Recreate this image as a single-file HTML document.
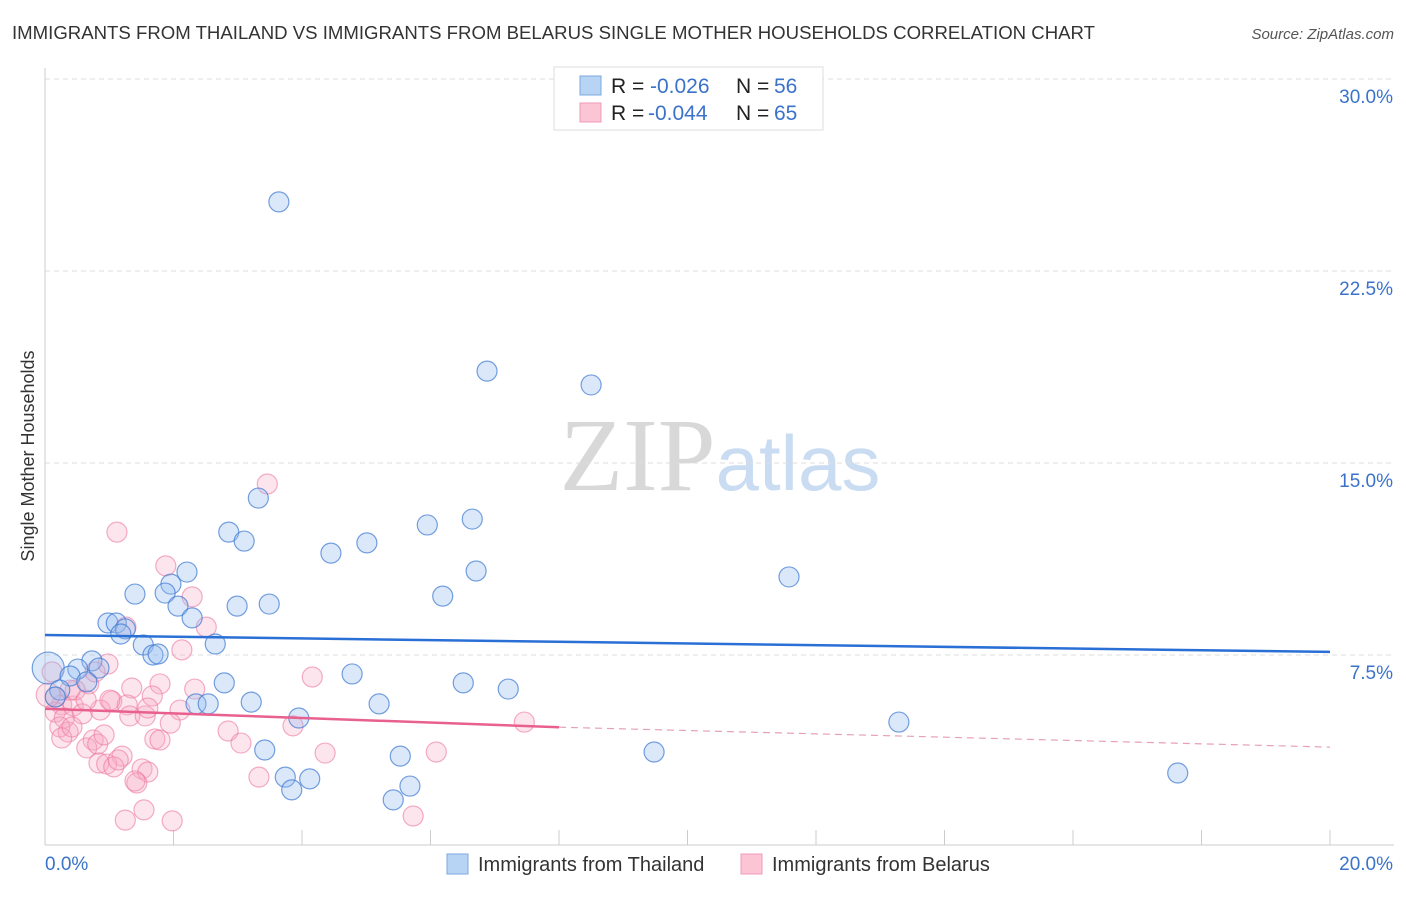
<!DOCTYPE html>
<html><head><meta charset="utf-8"><style>
body{margin:0;background:#fff;font-family:"Liberation Sans",sans-serif;}
svg text{font-family:"Liberation Sans",sans-serif;}
</style></head><body>
<svg id="chart" width="1406" height="892" viewBox="0 0 1406 892" xmlns="http://www.w3.org/2000/svg">
<text x="12" y="39" font-size="18" fill="#333" textLength="1083" lengthAdjust="spacingAndGlyphs">IMMIGRANTS FROM THAILAND VS IMMIGRANTS FROM BELARUS SINGLE MOTHER HOUSEHOLDS CORRELATION CHART</text>
<text x="1394" y="39" font-size="15" fill="#555" text-anchor="end" font-style="italic">Source: ZipAtlas.com</text>
<text x="720" y="490" font-size="104" text-anchor="middle"><tspan fill="#d8d8d8" font-family="Liberation Serif">ZIP</tspan><tspan fill="#c9dcf2" font-size="78">atlas</tspan></text>
<text transform="translate(34,456) rotate(-90)" font-size="18" fill="#333" text-anchor="middle">Single Mother Households</text>
<g id="grid"></g>
<g id="axes"></g>
<g id="marks"></g>
<g>
<rect x="554" y="67" width="269" height="63" fill="#fff" stroke="#ddd"/>
<rect x="580" y="76" width="21" height="19" fill="#b8d4f5" stroke="#7aa8e0"/>
<rect x="580" y="103" width="21" height="19" fill="#fcc5d5" stroke="#f09ab5"/>
<text x="611" y="93" font-size="21" fill="#222">R =<tspan x="650" fill="#3a73c9">-0.026</tspan><tspan x="736">N =</tspan><tspan x="774" fill="#3a73c9">56</tspan></text>
<text x="611" y="120" font-size="21" fill="#222">R =<tspan x="648" fill="#3a73c9">-0.044</tspan><tspan x="736">N =</tspan><tspan x="774" fill="#3a73c9">65</tspan></text>
</g>
<g>
<rect x="447" y="854" width="21" height="20" fill="#b8d4f5" stroke="#7aa8e0"/>
<text x="478" y="871" font-size="20" fill="#333">Immigrants from Thailand</text>
<rect x="741" y="854" width="21" height="20" fill="#fcc5d5" stroke="#f09ab5"/>
<text x="772" y="871" font-size="20" fill="#333">Immigrants from Belarus</text>
</g>
</svg>
<script>
const yTicks=[7.5,15,22.5,30];
const yTickLabels=["7.5%","15.0%","22.5%","30.0%"];
const xTicks=[0,2,4,6,8,10,12,14,16,18,20];
const blueX=[3.64,6.88,8.50,3.32,2.86,3.10,5.95,6.65,4.45,5.01,6.71,11.58,2.21,1.96,1.40,1.87,6.19,2.07,2.99,3.49,2.29,0.98,1.11,1.25,1.18,1.53,1.68,2.65,1.76,0.73,0.84,0.51,0.05,0.39,0.65,0.23,0.16,2.79,4.78,6.51,7.21,3.21,2.35,2.54,5.20,3.95,13.29,3.42,5.53,9.48,3.74,4.12,3.84,5.68,5.42,17.63];
const blueY=[25.2,18.59,18.05,13.63,12.30,11.95,12.58,12.81,11.48,11.88,10.78,10.55,10.74,10.27,9.88,9.92,9.80,9.41,9.41,9.49,8.95,8.75,8.75,8.52,8.32,7.89,7.50,7.93,7.54,7.27,6.99,6.95,6.99,6.68,6.45,6.13,5.86,6.41,6.76,6.41,6.17,5.66,5.59,5.59,5.59,5.04,4.88,3.79,3.55,3.71,2.73,2.66,2.23,2.38,1.84,2.89];
const pinkX=[3.46,1.12,1.88,2.29,2.51,1.26,2.13,0.98,0.11,0.68,1.35,1.79,2.33,4.16,0.16,1.67,0.26,1.04,1.28,0.44,0.58,0.86,1.32,1.56,1.60,2.10,1.95,3.86,2.85,7.46,0.16,0.30,0.36,0.23,0.26,0.42,0.75,0.65,0.82,0.92,1.71,3.05,4.36,6.09,1.20,0.84,0.96,1.07,1.51,1.60,3.33,1.43,1.40,1.25,1.54,1.98,5.73,0.47,0.05,0.78,0.39,0.64,1.01,1.14,1.79];
const pinkY=[14.18,12.30,10.98,9.77,8.59,8.59,7.70,7.15,6.84,6.37,6.21,6.37,6.17,6.64,5.86,5.90,5.55,5.70,5.55,5.51,5.20,5.35,5.12,5.12,5.43,5.35,4.84,4.73,4.53,4.88,5.27,5.04,4.49,4.69,4.26,4.69,4.18,3.87,4.02,4.38,4.22,4.06,3.67,3.71,3.55,3.28,3.24,3.13,3.05,2.93,2.73,2.50,2.58,1.05,1.45,1.02,1.21,6.13,5.94,6.84,6.13,5.74,5.74,3.40,4.18];
const blueTrend=[8.28,7.62];
const pinkTrend=[5.40,4.68,3.90];
const pinkSolidEnd=8;
const X=v=>45+v/20*1285, Y=v=>847-v*25.6;
const NS="http://www.w3.org/2000/svg";
function mk(t,a,p){const e=document.createElementNS(NS,t);for(const k in a)e.setAttribute(k,a[k]);p.appendChild(e);return e;}
const grid=document.getElementById('grid'),axes=document.getElementById('axes'),marks=document.getElementById('marks');
yTicks.forEach((v,i)=>{
 const l=mk('line',{x1:45,x2:1394,y1:Y(v),y2:Y(v),stroke:'#ddd','stroke-dasharray':'5,4'},grid);
 
 
 const t=mk('text',{x:1393,y:Y(v)+24,'font-size':19,fill:'#3a73c9','text-anchor':'end'},axes);
 t.textContent=yTickLabels[i];
 
 
});
const ax=mk('line',{x1:45,x2:1394,y1:845,y2:845,stroke:'#ccc'},axes);


const ay=mk('line',{x1:45,x2:45,y1:68,y2:845,stroke:'#ccc'},axes);


xTicks.forEach(v=>{
 const l=mk('line',{x1:X(v),x2:X(v),y1:830,y2:845,stroke:'#ccc'},axes);
 
 
});
const xl0=mk('text',{x:45,y:870,'font-size':19,fill:'#3a73c9'},axes);xl0.textContent='0.0%';


const xl1=mk('text',{x:1393,y:870,'font-size':19,fill:'#3a73c9','text-anchor':'end'},axes);xl1.textContent='20.0%';


pinkX.forEach((v,i)=>{
 const c=mk('circle',{cx:X(v),cy:Y(pinkY[i]),r:(v<0.1?12:10),fill:'rgba(248,170,196,0.3)',stroke:'rgba(236,120,158,0.6)','stroke-width':1.2},marks);
 
 
});
blueX.forEach((v,i)=>{
 const c=mk('circle',{cx:X(v),cy:Y(blueY[i]),r:(v<0.1?16:10),fill:'rgba(150,190,240,0.35)',stroke:'rgba(60,120,210,0.7)','stroke-width':1.2},marks);
 
 
});
const bt=mk('line',{x1:X(0),y1:Y(blueTrend[0]),x2:X(20),y2:Y(blueTrend[1]),stroke:'#2a6fd6','stroke-width':2.5},marks);


const pt=mk('line',{x1:X(0),y1:Y(pinkTrend[0]),x2:X(pinkSolidEnd),y2:Y(pinkTrend[1]),stroke:'#e8608e','stroke-width':2.5},marks);


const pd=mk('line',{x1:X(pinkSolidEnd),y1:Y(pinkTrend[1]),x2:X(20),y2:Y(pinkTrend[2]),stroke:'#e8a0b8','stroke-width':1.2,'stroke-dasharray':'7,5'},marks);


</script>
</body></html>
